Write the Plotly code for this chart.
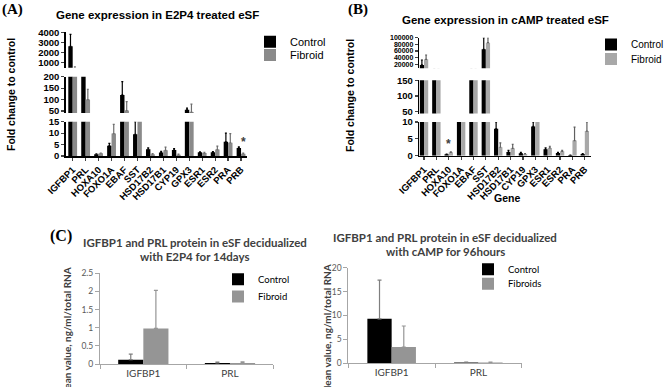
import plotly.graph_objects as go

W, H = 669, 387

# ---------------- data ----------------
genes = ["IGFBP1", "PRL", "HOXA10", "FOXO1A", "EBAF", "SST", "HSD17B2", "HSD17B1",
         "CYP19", "GPX3", "ESR1", "ESR2", "PRA", "PRB"]

# Panel A: E2P4 treated eSF (fold change to control)
ctrl_A = [2600, 300, 0.8, 4.5, 120, 9.5, 3.0, 1.5, 2.6, 55, 1.6, 1.6, 6.2, 3.5]
ctrl_A_err = [1200, 0, 0.1, 1.0, 58, 5.5, 0.6, 0.5, 0.6, 7, 0.2, 0.3, 3.8, 0.5]
fib_A = [380, 100, 1.2, 9.8, 52, 20, 0.8, 2.5, 0.6, 45, 1.3, 2.8, 5.8, 1.0]
fib_A_err = [160, 45, 0.1, 4.0, 39, 0, 0.3, 1.4, 0.2, 35, 0.3, 1.5, 4.0, 0.3]

# Panel B: cAMP treated eSF
ctrl_B = [18000, 5000, 0.4, 20, 5000, 65000, 8.0, 1.1, 0.7, 8.7, 1.9, 0.8, 0.2, 0.5]
ctrl_B_err = [15000, 0, 0.1, 0, 0, 35000, 2.0, 0.5, 0.3, 1.3, 0.4, 0.2, 0, 0.1]
fib_B = [35000, 5000, 1.0, 20, 5000, 85000, 2.5, 2.2, 0.5, 15, 2.3, 1.3, 4.5, 7.3]
fib_B_err = [13000, 0, 0.15, 0, 0, 15000, 1.3, 1.2, 0.1, 0, 0.5, 0.3, 4.0, 2.7]

# Panels C / D: protein
proteins = ["IGFBP1", "PRL"]
ctrl_C = [0.12, 0.03]
ctrl_C_err = [0.15, 0.02]
fib_C = [0.98, 0.03]
fib_C_err = [1.05, 0.03]
ctrl_D = [9.3, 0.15]
ctrl_D_err = [8.1, 0.1]
fib_D = [3.4, 0.15]
fib_D_err = [4.4, 0.1]

# segment ranges / ticks for broken axes
segA = [([460, 4000], [1000, 2000, 3000, 4000]),
        ([41, 200], [50, 100, 150, 200]),
        ([0, 15], [0, 5, 10, 15])]
segB = [([8000, 100000], [20000, 40000, 60000, 80000, 100000]),
        ([44, 150], [50, 100, 150]),
        ([0, 10], [0, 5, 10])]


def X(px):
    return px / W


def Y(py):
    return 1 - py / H


ARIAL = "Liberation Sans, Arial, sans-serif"
CAL = "Lato, Open Sans, sans-serif"
TIMES = "Liberation Serif, Times New Roman, serif"

fig = go.Figure()

BW = 0.34


def add_bar(x, y, err, color, name, xa, ya, width, legend, show, errcolor, capw):
    fig.add_trace(go.Bar(
        x=x, y=y, name=name, xaxis=xa, yaxis=ya,
        marker=dict(color=color, line=dict(width=0)),
        width=width, offset=(-width if name.startswith("Control") else 0),
        error_y=dict(type="data", symmetric=False, array=err,
                     arrayminus=[0] * len(err), color=errcolor,
                     thickness=1.2, width=capw),
        legend=legend, showlegend=show,
    ))


# Panel A
ya_names = ["y", "y2", "y3"]
for i, ya in enumerate(ya_names):
    add_bar(genes, ctrl_A, ctrl_A_err, "#000000", "Control", "x", ya, BW,
            "legend", i == 0, "#000000", 1)
    add_bar(genes, fib_A, fib_A_err, "#8a8a8a", "Fibroid", "x", ya, BW,
            "legend2", i == 0, "#6e6e6e", 1)

# Panel B
yb_names = ["y4", "y5", "y6"]
for i, ya in enumerate(yb_names):
    add_bar(genes, ctrl_B, ctrl_B_err, "#000000", "Control", "x2", ya, BW,
            "legend3", i == 0, "#000000", 1)
    add_bar(genes, fib_B, fib_B_err, "#a8a8a8", "Fibroid", "x2", ya, BW,
            "legend4", i == 0, "#606060", 1)

# Panel C
add_bar(proteins, ctrl_C, ctrl_C_err, "#000000", "Control", "x3", "y7", 0.29,
        "legend5", True, "#7f7f7f", 2)
add_bar(proteins, fib_C, fib_C_err, "#959595", "Fibroid", "x3", "y7", 0.29,
        "legend6", True, "#959595", 2)
# Panel D
add_bar(proteins, ctrl_D, ctrl_D_err, "#000000", "Control", "x4", "y8", 0.28,
        "legend7", True, "#7f7f7f", 2)
add_bar(proteins, fib_D, fib_D_err, "#959595", "Fibroids", "x4", "y8", 0.28,
        "legend8", True, "#959595", 2)

layout = dict(
    width=W, height=H, margin=dict(l=0, r=0, t=0, b=0, pad=0, autoexpand=False),
    paper_bgcolor="white", plot_bgcolor="white",
    barmode="overlay", showlegend=True,
    font=dict(family=ARIAL, color="#000000"),
)

# ---- Panel A axes
seg_px_A = [(32.3, 67.7), (76.7, 113.0), (121.7, 156.0)]
for i, ((rng, tv), (top, bot)) in enumerate(zip(segA, seg_px_A)):
    key = "yaxis" if i == 0 else "yaxis%d" % (i + 1)
    layout[key] = dict(domain=[Y(bot), Y(top)], range=rng, anchor="x",
                       tickvals=tv, tickformat="d", showgrid=False, zeroline=False,
                       showline=True, linecolor="black", linewidth=1.5,
                       ticks="outside", ticklen=3, tickwidth=1.2, automargin=False,
                       tickfont=dict(family=ARIAL, size=9.5, weight="bold"))
layout["xaxis"] = dict(domain=[X(65.7), X(247)], range=[-0.54, 13.46], anchor="y3",
                       showline=True, linecolor="black", linewidth=1.5,
                       ticks="outside", ticklen=3, tickwidth=1.2, tickangle=-45,
                       showgrid=False, zeroline=False, automargin=False,
                       tickfont=dict(family=ARIAL, size=9.5, weight="bold"))

# ---- Panel B axes
seg_px_B = [(37.7, 68.3), (80.3, 113.5), (122.0, 155.7)]
for i, ((rng, tv), (top, bot)) in enumerate(zip(segB, seg_px_B)):
    key = "yaxis%d" % (i + 4)
    layout[key] = dict(domain=[Y(bot), Y(top)], range=rng, anchor="x2",
                       tickvals=tv, tickformat="d", showgrid=False, zeroline=False,
                       showline=True, linecolor="black", linewidth=1.5,
                       ticks="outside", ticklen=3, tickwidth=1.2, automargin=False,
                       tickfont=dict(family=ARIAL, size=(7 if i == 0 else 9.5),
                                     weight="bold"))
layout["xaxis2"] = dict(domain=[X(419.3), X(591)], range=[-0.38, 13.5], anchor="y6",
                        showline=True, linecolor="black", linewidth=1.5,
                        ticks="outside", ticklen=3, tickwidth=1.2, tickangle=-45,
                        showgrid=False, zeroline=False, automargin=False,
                        tickfont=dict(family=ARIAL, size=9.5, weight="bold"))

# ---- Panel C axes
grey_ax = dict(showline=True, linecolor="#a6a6a6", linewidth=1, ticks="outside",
               ticklen=4, tickcolor="#a6a6a6", showgrid=False, zeroline=False,
               automargin=False)
layout["xaxis3"] = dict(domain=[X(100), X(273.3)], range=[-0.5, 1.5], anchor="y7",
                        tickson="boundaries",
                        tickfont=dict(family=CAL, size=10, color="#404040"), **grey_ax)
layout["yaxis7"] = dict(domain=[Y(364), Y(273.3)], range=[0, 2.5], anchor="x3",
                        dtick=0.5, tickfont=dict(family=CAL, size=8.5, color="#595959"),
                        **grey_ax)
# ---- Panel D axes
layout["xaxis4"] = dict(domain=[X(348.3), X(521.7)], range=[-0.5, 1.5], anchor="y8",
                        tickson="boundaries",
                        tickfont=dict(family=CAL, size=10, color="#404040"), **grey_ax)
layout["yaxis8"] = dict(domain=[Y(363.3), Y(267.7)], range=[0, 20], anchor="x4",
                        dtick=5, tickfont=dict(family=CAL, size=8.5, color="#595959"),
                        **grey_ax)


# ---- legends (one item each)
def leg(xpx, ypx, size, fam):
    return dict(x=X(xpx), y=Y(ypx), xanchor="left", yanchor="middle",
                bgcolor="rgba(0,0,0,0)", borderwidth=0, itemwidth=30,
                font=dict(family=fam, size=size, color="#000000"),
                itemclick=False, itemdoubleclick=False)


layout["legend"] = leg(250, 41.7, 11, ARIAL)
layout["legend2"] = leg(250, 55.0, 11, ARIAL)
layout["legend3"] = leg(591, 44.5, 10, ARIAL)
layout["legend4"] = leg(591, 59.0, 10, ARIAL)
layout["legend5"] = leg(218, 279.3, 9.5, CAL)
layout["legend6"] = leg(218, 296.5, 9.5, CAL)
layout["legend7"] = leg(468, 269.3, 9.5, CAL)
layout["legend8"] = leg(468, 283.7, 9.5, CAL)

fig.update_layout(**layout)

ann = []


def A(text, xpx, ypx, size, fam, bold=True, angle=0, color="#000000", xanchor="center"):
    ann.append(dict(text=("<b>%s</b>" % text) if bold else text, x=X(xpx), y=Y(ypx),
                    xref="paper", yref="paper", showarrow=False, textangle=angle,
                    xanchor=xanchor, yanchor="middle",
                    font=dict(family=fam, size=size, color=color)))


A("(A)", 13, 9, 15, TIMES)
A("(B)", 358, 9, 15, TIMES)
A("(C)", 61, 236, 16, TIMES)
A("Gene expression in E2P4 treated eSF", 157, 15, 11.5, ARIAL)
A("Gene expression in cAMP treated eSF", 505, 20, 11.5, ARIAL)
A("Fold change to control", 11, 95, 10.5, ARIAL, angle=-90)
A("Fold change to control", 350, 96, 10.5, ARIAL, angle=-90)
A("Gene", 507, 197.5, 10.5, ARIAL)
A("IGFBP1 and PRL protein in eSF decidualized", 195, 242.7, 11.5, CAL, color="#404040")
A("with E2P4 for 14days", 195, 256.7, 11.5, CAL, color="#404040")
A("IGFBP1 and PRL protein in eSF decidualized", 445, 237.7, 11.5, CAL, color="#404040")
A("with cAMP for 96hours", 445, 251.7, 11.5, CAL, color="#404040")
A("Mean value, ng/ml/total RNA", 67, 333, 10, CAL, angle=-90, color="#404040")
A("Mean value, ng/ml/total RNA", 327, 330, 10, CAL, angle=-90, color="#404040")

fig.update_layout(annotations=ann)
# significance asterisks placed in data coordinates
fig.add_annotation(text="<b>*</b>", x=13.17, y=6.3, xref="x", yref="y3", showarrow=False,
                   font=dict(family=ARIAL, size=12, color="#404040"))
fig.add_annotation(text="<b>*</b>", x=2.0, y=3.6, xref="x2", yref="y6", showarrow=False,
                   font=dict(family=ARIAL, size=12, color="#404040"))

fig.write_html("out.html",
               config={"displayModeBar": False, "staticPlot": True},
               post_script="document.body.style.margin='0';"
                           "document.body.style.overflow='hidden';")
